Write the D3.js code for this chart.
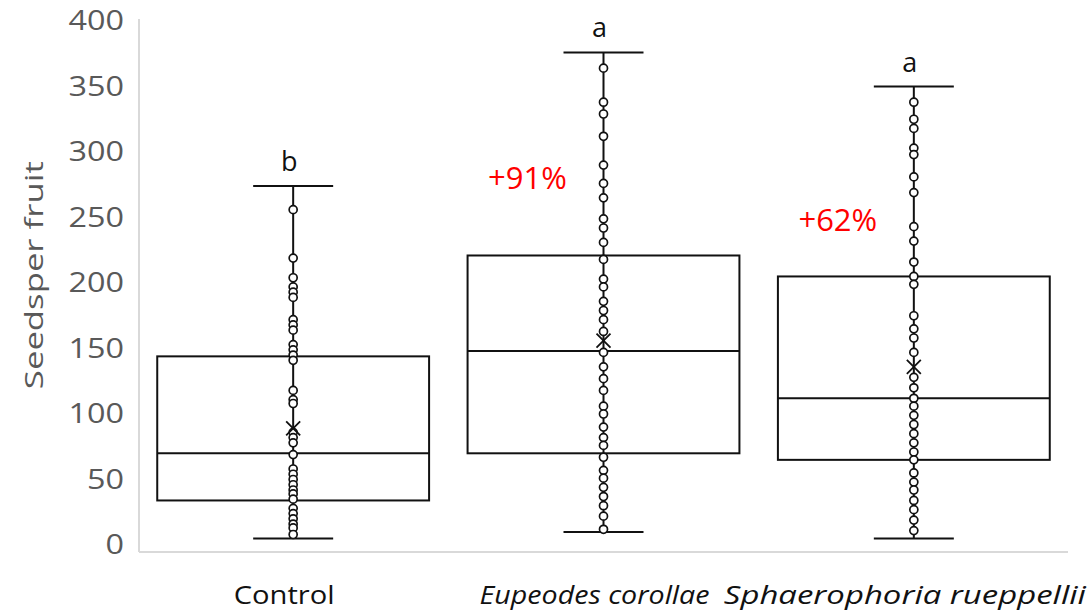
<!DOCTYPE html>
<html>
<head>
<meta charset="utf-8">
<script src="https://cdn.jsdelivr.net/npm/d3@7"></script>
<style>
  body { margin: 0; background: #fff; }
  svg { display: block; }
</style>
</head>
<body>
<svg id="chart" width="1090" height="613"></svg>
<script>
// data
const categories = ['Control', 'Eupeodes corollae', 'Sphaerophoria rueppellii']
const italic = [false, true, true]
const letters = ['b', 'a', 'a']
const increase = ['', '+91%', '+62%']
const increaseAt = [0, 280, 248] // value level where the red note sits
const whiskerLow = [5, 10, 5]
const q1 = [34, 70, 65]
const median = [70, 148, 112]
const q3 = [144, 221, 205]
const whiskerHigh = [274, 376, 350]
const mean = [89, 156, 136]
const points = [
  [256, 219, 204, 197, 193, 189, 172, 168, 164, 153, 149, 145, 141, 118, 111, 108, 86, 82, 78, 69, 58, 54, 50, 46, 42, 39, 35, 28, 24, 20, 16, 13, 8],
  [364, 338, 329, 312, 290, 276, 265, 249, 242, 231, 218, 203, 197, 186, 179, 172, 163, 147, 136, 127, 118, 106, 100, 90, 82, 76, 67, 57, 51, 44, 37, 30, 22, 12],
  [338, 325, 318, 303, 298, 281, 269, 243, 232, 216, 205, 199, 175, 165, 158, 147, 128, 120, 112, 106, 99, 92, 85, 78, 71, 65, 55, 48, 42, 34, 27, 19, 11],
]
const yTicks = [0, 50, 100, 150, 200, 250, 300, 350, 400]

const svg = d3.select('#chart')
const axisGrey = '#d9d9d9'
const textGrey = '#595959'
const font = 'Open Sans, sans-serif'

const y = d3.scaleLinear().domain([0, 400]).range([545, 21])
const x = d3.scaleBand()
  .domain(categories)
  .range([138, 1069])
  .paddingInner(0.124)
  .paddingOuter(0.062)

const axisX = 139
const axisY = 552

// axis lines
svg.append('line')
  .attr('x1', axisX).attr('x2', axisX)
  .attr('y1', 19).attr('y2', axisY)
  .attr('stroke', axisGrey).attr('stroke-width', 2)
svg.append('line')
  .attr('x1', axisX).attr('x2', 1068)
  .attr('y1', axisY).attr('y2', axisY)
  .attr('stroke', axisGrey).attr('stroke-width', 2)

// y tick labels
const yAxis = svg.append('g')
  .attr('transform', `translate(${axisX},0)`)
  .call(d3.axisLeft(y).tickValues(yTicks).tickSize(0).tickPadding(15))
yAxis.select('.domain').remove()
yAxis.selectAll('text')
  .attr('font-family', font)
  .attr('font-size', 28)
  .attr('fill', textGrey)
  .attr('textLength', d => String(d).length * 18.5)
  .attr('lengthAdjust', 'spacingAndGlyphs')

svg.append('text')
  .attr('transform', `translate(43,${y(206)}) rotate(-90)`)
  .attr('text-anchor', 'middle')
  .attr('font-family', font)
  .attr('font-size', 25)
  .attr('fill', textGrey)
  .attr('textLength', 228)
  .attr('lengthAdjust', 'spacingAndGlyphs')
  .text('Seedsper fruit')

// category labels
svg.selectAll('.cat')
  .data(categories)
  .join('text')
  .attr('class', 'cat')
  .attr('x', d => x(d) + x.bandwidth() / 2 - 9)
  .attr('y', 604)
  .attr('text-anchor', 'middle')
  .attr('font-family', font)
  .attr('font-size', 26)
  .attr('font-style', (d, i) => italic[i] ? 'italic' : 'normal')
  .attr('fill', '#111')
  .attr('textLength', (d, i) => [101, 230, 362][i])
  .attr('lengthAdjust', 'spacingAndGlyphs')
  .text(d => d)

const groups = svg.selectAll('.box')
  .data(categories)
  .join('g')
  .attr('class', 'box')

const cx = d => x(d) + x.bandwidth() / 2
const capHalf = 40

// whisker stem
groups.append('line')
  .attr('x1', cx).attr('x2', cx)
  .attr('y1', (d, i) => y(whiskerLow[i]))
  .attr('y2', (d, i) => y(whiskerHigh[i]))
  .attr('stroke', '#111').attr('stroke-width', 2)

// caps
groups.each(function (d, i) {
  const g = d3.select(this)
  ;[whiskerLow[i], whiskerHigh[i]].forEach(v => {
    g.append('line')
      .attr('x1', cx(d) - capHalf).attr('x2', cx(d) + capHalf)
      .attr('y1', y(v)).attr('y2', y(v))
      .attr('stroke', '#111').attr('stroke-width', 2)
  })
})

// box
groups.append('rect')
  .attr('x', d => x(d))
  .attr('width', x.bandwidth())
  .attr('y', (d, i) => y(q3[i]))
  .attr('height', (d, i) => y(q1[i]) - y(q3[i]))
  .attr('fill', 'none')
  .attr('stroke', '#111').attr('stroke-width', 2)

groups.append('line')
  .attr('x1', d => x(d)).attr('x2', d => x(d) + x.bandwidth())
  .attr('y1', (d, i) => y(median[i])).attr('y2', (d, i) => y(median[i]))
  .attr('stroke', '#111').attr('stroke-width', 2)

// data points
groups.each(function (d, i) {
  d3.select(this).selectAll('circle')
    .data(points[i])
    .join('circle')
    .attr('cx', cx(d))
    .attr('cy', v => y(v))
    .attr('r', 4)
    .attr('fill', '#fff')
    .attr('stroke', '#111')
    .attr('stroke-width', 1.7)
})

// mean marker
groups.append('path')
  .attr('d', (d, i) => {
    const mx = cx(d), my = y(mean[i]), s = 7
    return `M${mx - s},${my - s}L${mx + s},${my + s}M${mx - s},${my + s}L${mx + s},${my - s}`
  })
  .attr('stroke', '#111').attr('stroke-width', 1.8)

// significance letters
groups.append('text')
  .attr('x', d => cx(d) - 4)
  .attr('y', (d, i) => y(whiskerHigh[i]) - 15)
  .attr('text-anchor', 'middle')
  .attr('font-family', font)
  .attr('font-size', 27)
  .attr('fill', '#111')
  .text((d, i) => letters[i])

// percent increase
groups.append('text')
  .attr('x', d => cx(d) - 76)
  .attr('y', (d, i) => y(increaseAt[i]) + 11)
  .attr('text-anchor', 'middle')
  .attr('font-family', font)
  .attr('font-size', 31)
  .attr('fill', '#ff0000')
  .text((d, i) => increase[i])
</script>
</body>
</html>
